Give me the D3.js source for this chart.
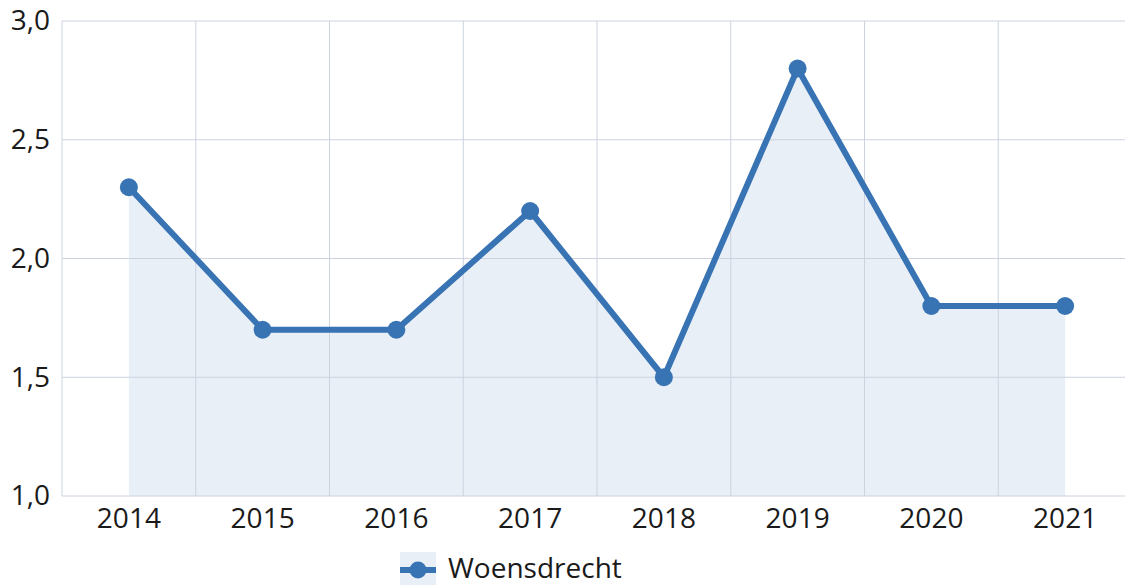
<!DOCTYPE html>
<html>
<head>
<meta charset="utf-8">
<script src="https://cdn.jsdelivr.net/npm/d3@7"></script>
<style>
  body { margin: 0; background: #fff; }
  svg { display: block; font-family: "Open Sans", "Noto Sans", sans-serif; }
</style>
</head>
<body>
<svg id="chart" width="1125" height="585"></svg>
<script>
// data
const years = ["2014", "2015", "2016", "2017", "2018", "2019", "2020", "2021"];
const values = [2.3, 1.7, 1.7, 2.2, 1.5, 2.8, 1.8, 1.8];
const yTicks = [1.0, 1.5, 2.0, 2.5, 3.0];
const seriesName = "Woensdrecht";

const svg = d3.select("#chart");
const margin = { left: 62, top: 21, bottom: 89 };
const plotW = 1070;
const plotH = 585 - margin.top - margin.bottom;

const color = "#3873b3";
const fillColor = "#e8eff7";
const gridColor = "#ccd3df";
const fontSize = 28;

const x = d3.scaleBand().domain(years).range([margin.left, margin.left + plotW]);
const y = d3.scaleLinear().domain([1, 3]).range([margin.top + plotH, margin.top]);
const cx = (d, i) => x(years[i]) + x.bandwidth() / 2;

const g = svg.append("g");

// area under the line
const area = d3.area()
  .x((d, i) => cx(d, i))
  .y0(y(1))
  .y1((d) => y(d));
g.append("path").datum(values).attr("d", area).attr("fill", fillColor);

// horizontal grid
g.append("g")
  .selectAll("line")
  .data(yTicks)
  .join("line")
  .attr("x1", margin.left)
  .attr("x2", margin.left + plotW)
  .attr("y1", (d) => y(d))
  .attr("y2", (d) => y(d))
  .attr("stroke", gridColor)
  .attr("stroke-width", 1);

// vertical grid at band edges
g.append("g")
  .selectAll("line")
  .data(years)
  .join("line")
  .attr("x1", (d) => x(d))
  .attr("x2", (d) => x(d))
  .attr("y1", y(3))
  .attr("y2", y(1))
  .attr("stroke", gridColor)
  .attr("stroke-width", 1);

// y axis labels
const fmt = (d) => d3.format(".1f")(d).replace(".", ",");
const yAxis = d3.axisLeft(y).tickValues(yTicks).tickFormat(fmt).tickSize(0).tickPadding(12);
g.append("g")
  .attr("transform", `translate(${margin.left},0)`)
  .call(yAxis)
  .call((a) => a.select(".domain").remove())
  .call((a) => a.selectAll("text")
    .attr("font-size", fontSize)
    .attr("fill", "#1a1a1a")
    .attr("font-family", "Open Sans"));

// x axis labels
const xAxis = d3.axisBottom(x).tickSize(0).tickPadding(12);
g.append("g")
  .attr("transform", `translate(0,${y(1)})`)
  .call(xAxis)
  .call((a) => a.select(".domain").remove())
  .call((a) => a.selectAll("text")
    .attr("font-size", fontSize)
    .attr("fill", "#1a1a1a")
    .attr("font-family", "Open Sans"));

// line + markers
const line = d3.line().x((d, i) => cx(d, i)).y((d) => y(d));
g.append("path")
  .datum(values)
  .attr("d", line)
  .attr("fill", "none")
  .attr("stroke", color)
  .attr("stroke-width", 6)
  .attr("stroke-linejoin", "round");

g.append("g")
  .selectAll("circle")
  .data(values)
  .join("circle")
  .attr("cx", (d, i) => cx(d, i))
  .attr("cy", (d) => y(d))
  .attr("r", 9)
  .attr("fill", color);

// legend
const lg = svg.append("g").attr("transform", "translate(400,552)");
lg.append("rect").attr("width", 36).attr("height", 40).attr("fill", fillColor);
lg.append("line")
  .attr("x1", 0).attr("x2", 36).attr("y1", 18).attr("y2", 18)
  .attr("stroke", color).attr("stroke-width", 6);
lg.append("circle").attr("cx", 18).attr("cy", 18).attr("r", 8.5).attr("fill", color);
lg.append("text")
  .attr("x", 48)
  .attr("y", 26)
  .attr("font-size", fontSize)
  .attr("fill", "#1a1a1a")
  .text(seriesName);
</script>
</body>
</html>
